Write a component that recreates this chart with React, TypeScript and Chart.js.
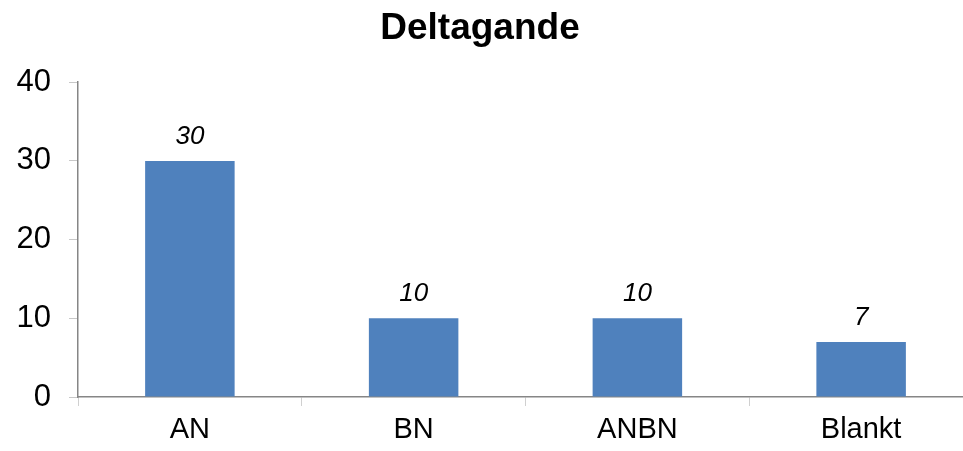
import React, { useEffect, useRef } from "react";
import { Chart, registerables } from "chart.js";

Chart.register(...registerables);

const categories = ["AN", "BN", "ANBN", "Blankt"];
const values = [30, 10, 10, 7];
const yTicks = [0, 10, 20, 30, 40];
const titleText = "Deltagande";

const FONT = "Arial, 'Liberation Sans', Helvetica, sans-serif";

const valueLabels = {
  id: "valueLabels",
  afterDatasetsDraw(chart: any) {
    const ctx = chart.ctx;
    const meta = chart.getDatasetMeta(0);
    ctx.save();
    ctx.font = `italic 26px ${FONT}`;
    ctx.fillStyle = "#000";
    ctx.textAlign = "center";
    ctx.textBaseline = "alphabetic";
    meta.data.forEach((bar: any, i: number) => {
      ctx.fillText(String(values[i]), bar.x, bar.y - 17);
    });
    ctx.restore();
  },
};

const centeredTitle = {
  id: "centeredTitle",
  afterDraw(chart: any) {
    const ctx = chart.ctx;
    ctx.save();
    ctx.font = `bold 37px ${FONT}`;
    ctx.fillStyle = "#000";
    ctx.textAlign = "center";
    ctx.textBaseline = "alphabetic";
    ctx.fillText(titleText, 480, 39);
    ctx.restore();
  },
};

export default function App() {
  const ref = useRef<HTMLCanvasElement | null>(null);
  useEffect(() => {
    document.body.style.overflow = "hidden";
    const chart = new Chart(ref.current as HTMLCanvasElement, {
      type: "bar",
      data: {
        labels: categories,
        datasets: [
          {
            data: values,
            backgroundColor: "#4F81BD",
            borderWidth: 0,
            barPercentage: 0.4,
            categoryPercentage: 1,
          },
        ],
      },
      options: {
        animation: false,
        responsive: false,
        maintainAspectRatio: false,
        layout: { padding: { left: 0, right: 12, top: 0, bottom: 0 } },
        plugins: {
          legend: { display: false },
          tooltip: { enabled: false },
          title: {
            display: true,
            text: titleText,
            color: "rgba(0,0,0,0)",
            font: { family: FONT, size: 36, weight: "bold" },
            padding: { top: 6, bottom: 33 },
          },
        },
        scales: {
          x: {
            grid: {
              display: true,
              drawOnChartArea: false,
              drawTicks: true,
              tickLength: 9,
              color: "#d0d0d0",
              offset: true,
            },
            border: { display: true, color: "#868686", width: 1.5 },
            ticks: {
              color: "#000",
              font: { family: FONT, size: 29 },
              padding: 7,
              maxRotation: 0,
            },
            afterFit(scale: any) {
              scale.height = 54;
            },
          },
          y: {
            min: 0,
            max: 40,
            afterBuildTicks(scale: any) {
              scale.ticks = yTicks.map((v) => ({ value: v }));
            },
            grid: {
              display: true,
              drawOnChartArea: false,
              drawTicks: true,
              tickLength: 9,
              color: "#c8c8c8",
            },
            border: { display: true, color: "#868686", width: 1.5 },
            ticks: {
              color: "#000",
              font: { family: FONT, size: 31 },
              padding: 18,
            },
            afterFit(scale: any) {
              scale.width = 78;
            },
          },
        },
      },
      plugins: [valueLabels, centeredTitle],
    });
    return () => chart.destroy();
  }, []);
  return (
    <div style={{ position: "absolute", left: 0, top: 0, width: 985, height: 451 }}>
      <canvas ref={ref} width={985} height={451} style={{ width: 985, height: 451 }} />
    </div>
  );
}
